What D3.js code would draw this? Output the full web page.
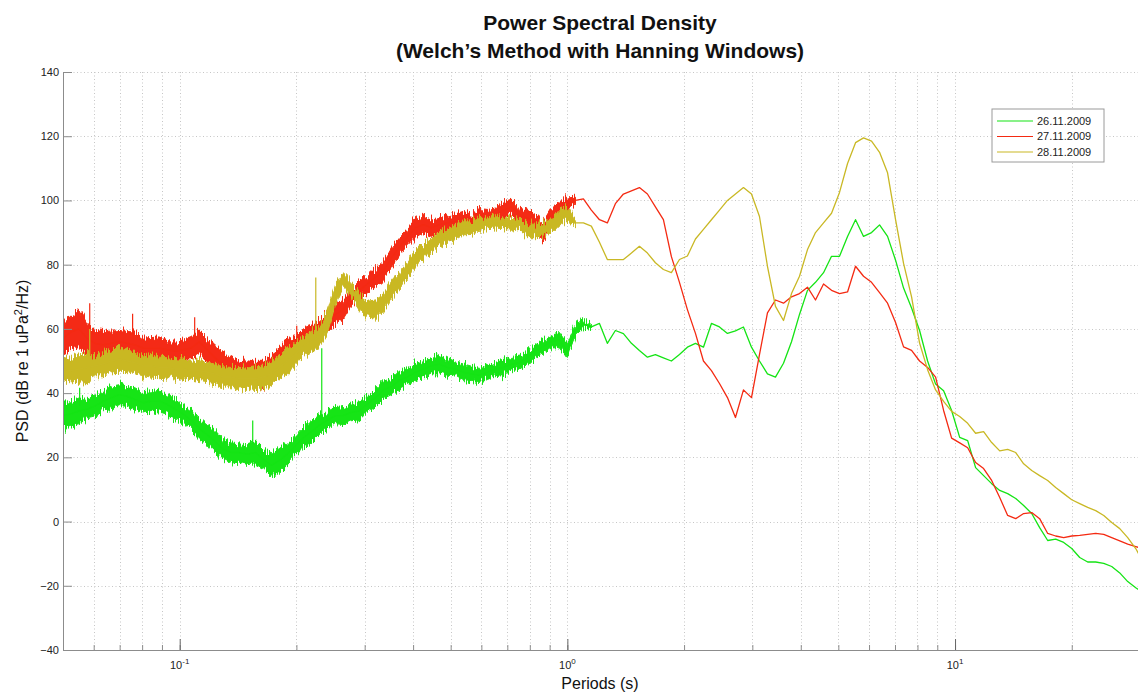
<!DOCTYPE html>
<html>
<head>
<meta charset="utf-8">
<script src="https://cdn.jsdelivr.net/npm/d3@7"></script>
<style>
  body { margin: 0; background: #fff; overflow: hidden; }
  text { font-family: "Liberation Sans", Arial, Helvetica, sans-serif; }
</style>
</head>
<body>
<svg id="chart"></svg>
<script>
const width = 1138, height = 693;

// periods (s), log spaced, shared by the three days
const periods = [0.0500,0.0524,0.0550,0.0577,0.0605,0.0634,0.0665,0.0698,0.0732,0.0767,
  0.0805,0.0844,0.0885,0.0928,0.0973,0.1021,0.1070,0.1122,0.1177,0.1234,
  0.1294,0.1357,0.1424,0.1493,0.1566,0.1642,0.1722,0.1806,0.1894,0.1986,
  0.2083,0.2184,0.2290,0.2402,0.2519,0.2642,0.2770,0.2905,0.3047,0.3195,
  0.3351,0.3514,0.3685,0.3864,0.4052,0.4250,0.4457,0.4674,0.4901,0.5140,
  0.5390,0.5653,0.5928,0.6217,0.6520,0.6837,0.7170,0.7519,0.7885,0.8269,
  0.8672,0.9094,0.9537,1.000,1.049,1.100,1.153,1.210,1.268,1.330,
  1.395,1.463,1.534,1.609,1.687,1.769,1.855,1.946,2.040,2.140,
  2.244,2.353,2.468,2.588,2.714,2.846,2.985,3.130,3.282,3.442,
  3.610,3.786,3.970,4.163,4.366,4.579,4.802,5.035,5.281,5.538,
  5.807,6.090,6.387,6.698,7.024,7.366,7.725,8.101,8.496,8.910,
  9.344,9.799,10.28,10.78,11.30,11.85,12.43,13.04,13.67,14.34,
  15.03,15.77,16.53,17.34,18.18,19.07,20.00,20.97,21.99,23.06,
  24.19,25.36,26.60,27.89,29.25,30.0];

// PSD (dB) per day
const greenPsd = [33,33.5,34.5,35,36,37.5,38.5,39.5,39,38,
  37,37.5,37.5,36.5,35,33.5,31.5,29,27,25,
  22.5,21.5,21.5,21,21.5,19.5,17.5,19,21,23.5,
  26,28,30,31.5,33,33,34,34.5,36.5,38.5,
  41,42,44,45,46.5,47.5,48.5,49,48,47.5,
  46.5,46,45.5,46.5,47.5,48,49,49.5,51,53,
  54.5,56,56.5,53,59.5,61.5,60.6,61.7,55.5,59.5,
  58.5,55.5,53.3,51.2,52,51,50,52,54.3,55.5,
  54.3,61.7,60.6,58.6,59.4,60.6,54.3,50,46,45,
  49.3,56,64.5,72,74.5,77.5,82.6,82.6,88.8,94,
  88.8,90,92.4,88.8,81.4,72.7,66.5,59.5,50,42.8,
  40.7,34.6,26.2,25.2,16.8,14.3,11.8,9.7,8.7,7.2,
  5,2.5,-1.9,-5.9,-5.5,-6.5,-8.4,-11.2,-12.6,-12.6,
  -13,-14,-16,-18.7,-20.6,-21.5];

const redPsd = [57,59,60,57,55.5,55,55.5,56,55.5,55,
  54,54,54,53.5,53,53.5,54,56,53.5,51,
  49,48,46,46,46,45.5,48,50,53,54,
  56,57.5,59.5,62,64.5,66,70,72,74,76,
  78,82,85.5,88.5,91.5,92.5,91.5,92.5,93,93.5,
  94.5,93.5,95.5,95,95.5,97,98,95.5,94.5,93,
  90,95,97.5,99,100,100.5,97,94,93,99,
  102,103,104,102,98,94,82.5,74.5,66,58.6,
  50,47,43,38.6,32.4,41,38.6,52,65,69,
  68,70,71,73,69,74,72,71,71.5,79.5,
  76.4,74.5,71.3,68,62,54.4,53.3,50,48,45,
  34.6,26,24.5,23,18.4,16.5,12.8,7.5,1.9,0.9,
  2.5,2.8,0.9,-3.7,-4.5,-5,-4.5,-4.3,-4,-3.7,
  -4,-5,-6,-7,-7.8,-8.2];

const yellowPsd = [47.5,47,47.5,48,48.5,49,50,50.5,50,49.5,
  48.5,48.5,48,48,47.5,47.5,47,47,46.5,46,
  45,45,44.5,44.5,44.5,45,46,48,50,52,
  54.5,56,57.5,62,70.5,75,72.5,68.5,66,66,
  68,72,75,78,82,84,86,88,89,90,
  91.5,91.5,92.5,93,93.5,93,92.5,93,90.5,90.5,
  91,92,95,96,93,93,92,87,81.6,81.6,
  81.6,83.6,85.7,83.6,80.6,78.5,77.5,81.6,82.7,88,
  91,94,97,100,102,104,102,95,79.5,67,
  62.6,71,76.4,84.7,90,93,96,102.5,111.5,118,
  119.5,118.5,115,108.6,94,80.4,70,55.6,47.3,41,
  37.4,34.3,32.7,30.6,27.5,28,24.6,22,22.5,21.5,
  18,15.9,14.3,12.8,10.6,8.7,6.8,5.6,4.4,3.4,
  1.9,-0.3,-2.2,-5,-8.4,-10.8];

// half width (dB) of the noisy band at short periods
const greenNoise = [4.2,3.8,4,3,3.4,3,3.7,3.1,2.8,3,
  3.2,2.9,3.4,3,3.3,2.8,2.9,3.2,3,3.4,
  3,3.3,3,3.2,3.6,3,3.3,3.7,3.4,3,
  3.2,3.5,3,2.8,2.5,2.8,2.6,2.8,2.5,2.8,
  2.7,2.5,2.8,2.6,2.7,2.6,2.2,2.7,2.4,2.2,
  2.6,2.4,2.2,2.3,2.1,2.2,2.1,2,2.2,2,
  2.1,1.9,2.4,2.2,1.5,1.2,0.8];
const redNoise = [4.5,5.4,6.2,4.6,4,4.2,3.8,3.5,3.7,4,
  3.1,3.3,3.5,2.8,3.2,3,3.3,3.7,3.5,3.4,
  3.7,3.4,4,4.4,3.9,4.4,3.7,3.4,4,3.5,
  4,3.3,3.6,3.1,3.2,2.9,2.6,2.8,2.5,2.7,
  2.6,3,2.7,2.5,2.9,2.6,2.7,2.2,2.1,2.3,
  2.1,2.2,2,2.2,2.1,2.5,2.4,2.1,2.5,2.3,
  3.2,2.4,2,1.8,1];
const yellowNoise = [4,3.8,4.1,4.4,3.1,3.6,3.4,3.7,3.3,3.5,
  3.1,3.5,3.2,3,3.2,3.1,2.9,3.4,3.2,3,
  3.2,3,3.5,3.3,3.7,3.4,3.6,3.3,3.7,3.4,
  3.1,3.2,3,3.5,3,2.2,2.2,2.1,2.6,3,
  2.6,2.7,2.5,2.6,2.7,2.5,2.2,2.2,2.1,2.2,
  2.2,2.1,2.2,1.8,2.1,1.8,1.8,1.7,1.8,1.8,
  2.1,2,2.4,2.2,1.2];

// isolated spikes: [period, from dB, to dB]
const greenSpikes = [[0.0552, 36, 41.7], [0.1543, 24, 31.5], [0.2325, 32, 54]];
const redSpikes = [[0.0586, 60, 68], [0.0756, 58, 64.7], [0.1093, 57, 63.6], [0.2004, 57, 61]];
const yellowSpikes = [[0.0586, 51, 60], [0.2244, 58, 76]];

const seriesNames = ["26.11.2009", "27.11.2009", "28.11.2009"];
const colors = ["#14e414", "#f42a12", "#c9b824"];

const yTicks = [-40, -20, 0, 20, 40, 60, 80, 100, 120, 140];
const decades = [0.1, 1, 10];
const decadeExp = ["-1", "0", "1"];

const svg = d3.select("#chart").attr("width", width).attr("height", height);

const x = d3.scaleLog().domain([0.05, 30]).range([63, 1140]);
const y = d3.scaleLinear().domain([-40, 140]).range([650, 72]);

const defs = svg.append("defs");
defs.append("clipPath").attr("id", "plot-clip")
  .append("rect")
  .attr("x", x(0.05)).attr("y", y(140))
  .attr("width", width - x(0.05)).attr("height", y(-40) - y(140));

// rough edge for the noisy short-period band (vertical jitter only)
const jitter = defs.append("filter").attr("id", "jitter")
  .attr("x", "-2%").attr("y", "-30%").attr("width", "104%").attr("height", "160%");
jitter.append("feTurbulence")
  .attr("type", "fractalNoise").attr("baseFrequency", "0.9 0.03")
  .attr("numOctaves", 2).attr("seed", 7).attr("result", "noise");
jitter.append("feColorMatrix")
  .attr("in", "noise").attr("type", "matrix")
  .attr("values", "0 0 0 0 0.5  0 1 0 0 0  0 0 0 0 0  0 0 0 0 1")
  .attr("result", "shift");
jitter.append("feDisplacementMap")
  .attr("in", "SourceGraphic").attr("in2", "shift")
  .attr("scale", 16).attr("xChannelSelector", "R").attr("yChannelSelector", "G");

// dotted grid
const grid = svg.append("g")
  .attr("stroke", "#c6c6c6")
  .attr("stroke-width", 1)
  .attr("stroke-dasharray", "1,2.5");
grid.selectAll(".vgrid").data(x.ticks()).enter().append("line")
  .attr("class", "vgrid")
  .attr("x1", d => Math.round(x(d)) + 0.5).attr("x2", d => Math.round(x(d)) + 0.5)
  .attr("y1", y(140)).attr("y2", y(-40));
grid.selectAll(".hgrid").data(yTicks).enter().append("line")
  .attr("class", "hgrid")
  .attr("x1", x(0.05)).attr("x2", width)
  .attr("y1", d => Math.round(y(d)) + 0.5).attr("y2", d => Math.round(y(d)) + 0.5);

const series = [
  {name: seriesNames[0], psd: greenPsd, noise: greenNoise, spikes: greenSpikes, color: colors[0]},
  {name: seriesNames[1], psd: redPsd, noise: redNoise, spikes: redSpikes, color: colors[1]},
  {name: seriesNames[2], psd: yellowPsd, noise: yellowNoise, spikes: yellowSpikes, color: colors[2]}
];

const plot = svg.append("g").attr("clip-path", "url(#plot-clip)");

const line = d3.line()
  .x((d, i) => x(periods[i]))
  .y(d => y(d));

series.forEach(s => {
  const band = d3.area()
    .x((d, i) => x(periods[i]))
    .y0((d, i) => y(s.psd[i] - d))
    .y1((d, i) => y(s.psd[i] + d));
  plot.append("path")
    .datum(s.noise)
    .attr("d", band)
    .attr("fill", s.color)
    .attr("stroke", s.color)
    .attr("stroke-width", 1)
    .attr("filter", "url(#jitter)");

  plot.selectAll(null).data(s.spikes).enter().append("line")
    .attr("x1", d => x(d[0])).attr("x2", d => x(d[0]))
    .attr("y1", d => y(d[1])).attr("y2", d => y(d[2]))
    .attr("stroke", s.color).attr("stroke-width", 1.2);

  plot.append("path")
    .datum(s.psd)
    .attr("d", line)
    .attr("fill", "none")
    .attr("stroke", s.color)
    .attr("stroke-width", 1.3)
    .attr("stroke-linejoin", "round");
});

// axes
const axisColor = "#8c8c8c";
const yAxis = svg.append("g")
  .attr("transform", `translate(${x(0.05)},0)`)
  .call(d3.axisLeft(y).tickValues(yTicks).tickSizeInner(-9).tickSizeOuter(0).tickPadding(4));
yAxis.select(".domain").attr("stroke", axisColor);
yAxis.selectAll(".tick line").attr("stroke", axisColor);
yAxis.selectAll(".tick text").attr("font-size", 11).attr("fill", "#222");

const xMinor = svg.append("g")
  .attr("transform", `translate(0,${y(-40)})`)
  .call(d3.axisBottom(x).tickValues(x.ticks()).tickSizeInner(-5).tickSizeOuter(0).tickFormat(""));
xMinor.select(".domain").attr("stroke", axisColor);
xMinor.selectAll(".tick line").attr("stroke", axisColor);

const xMajor = svg.append("g")
  .attr("transform", `translate(0,${y(-40)})`)
  .call(d3.axisBottom(x).tickValues(decades).tickSizeInner(-11).tickSizeOuter(0).tickFormat(""));
xMajor.select(".domain").remove();
xMajor.selectAll(".tick line").attr("stroke", "#666");

const xLabels = svg.append("g");
decades.forEach((d, i) => {
  const t = xLabels.append("text")
    .attr("x", x(d))
    .attr("y", y(-40) + 19)
    .attr("text-anchor", "middle")
    .attr("font-size", 11)
    .attr("fill", "#222");
  t.append("tspan").text("10");
  t.append("tspan").attr("dy", -5).attr("font-size", 8).text(decadeExp[i]);
});

// titles
svg.append("text")
  .attr("x", 600).attr("y", 30)
  .attr("text-anchor", "middle")
  .attr("font-size", 21).attr("font-weight", "bold").attr("fill", "#111")
  .text("Power Spectral Density");
svg.append("text")
  .attr("x", 600).attr("y", 58)
  .attr("text-anchor", "middle")
  .attr("font-size", 21).attr("font-weight", "bold").attr("fill", "#111")
  .text("(Welch\u2019s Method with Hanning Windows)");

svg.append("text")
  .attr("x", 600).attr("y", 689)
  .attr("text-anchor", "middle")
  .attr("font-size", 16).attr("fill", "#111")
  .text("Periods (s)");

const yLab = svg.append("text")
  .attr("transform", "translate(28,361) rotate(-90)")
  .attr("text-anchor", "middle")
  .attr("font-size", 16).attr("fill", "#111");
yLab.append("tspan").text("PSD (dB re 1 uPa");
yLab.append("tspan").attr("dy", -6).attr("font-size", 11).text("2");
yLab.append("tspan").attr("dy", 6).text("/Hz)");

// legend
const legend = svg.append("g").attr("transform", "translate(992,109)");
legend.append("rect")
  .attr("width", 112).attr("height", 53)
  .attr("fill", "#fff").attr("stroke", "#9a9a9a");
const entry = legend.selectAll(".entry").data(series).enter().append("g")
  .attr("class", "entry")
  .attr("transform", (d, i) => `translate(0,${12 + i * 15.5})`);
entry.append("line")
  .attr("x1", 5).attr("x2", 41)
  .attr("stroke", d => d.color).attr("stroke-width", 1.2);
entry.append("text")
  .attr("x", 45).attr("dy", "0.35em")
  .attr("font-size", 11).attr("fill", "#222")
  .text(d => d.name);
</script>
</body>
</html>
